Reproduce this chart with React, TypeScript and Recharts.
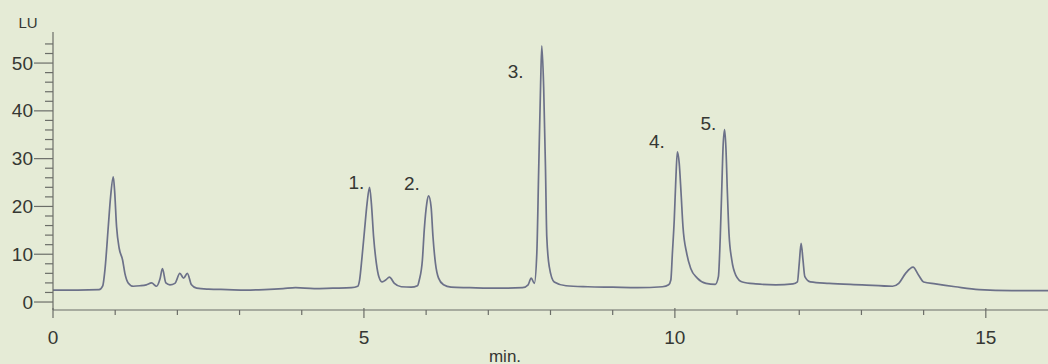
import React from 'react';
import { LineChart, Line, XAxis, YAxis, ReferenceDot } from 'recharts';

// fluorescence trace, retention time in minutes vs signal in LU
const RETENTION_MIN = [
  0.0, 0.4, 0.74, 0.8, 0.835, 0.889, 0.926, 0.969, 0.99, 1.022, 1.065, 1.119, 1.156, 1.209, 1.29, 1.4, 1.5,
  1.585, 1.665, 1.72, 1.76, 1.815, 1.88, 1.96, 2.04, 2.1, 2.16, 2.227, 2.31, 2.5, 2.8, 3.1, 3.4, 3.7, 3.9,
  4.2, 4.5, 4.8, 4.9, 4.93, 4.97, 5.01, 5.05, 5.09, 5.12, 5.155, 5.2, 5.24, 5.295, 5.35, 5.41, 5.49, 5.6,
  5.76, 5.86, 5.89, 5.94, 5.97, 6.01, 6.04, 6.08, 6.11, 6.15, 6.2, 6.28, 6.4, 6.7, 7.0, 7.3, 7.55, 7.64,
  7.69, 7.74, 7.78, 7.81, 7.84, 7.86, 7.89, 7.92, 7.94, 7.98, 8.06, 8.25, 8.6, 9.0, 9.4, 9.8, 9.9, 9.935,
  9.96, 9.99, 10.015, 10.04, 10.07, 10.1, 10.13, 10.19, 10.255, 10.36, 10.5, 10.65, 10.7, 10.73, 10.755,
  10.775, 10.8, 10.82, 10.845, 10.87, 10.915, 10.98, 11.085, 11.3, 11.62, 11.9, 11.97, 12.0, 12.03, 12.06,
  12.09, 12.18, 12.48, 13.01, 13.5, 13.6, 13.71, 13.83, 13.92, 14.0, 14.19, 14.51, 14.89, 15.42, 16.0,
];

const SIGNAL_LU = [
  2.5, 2.5, 2.6, 3.4, 6.7, 15.8, 22.0, 26.2, 23.4, 15.8, 11.2, 8.8, 6.0, 4.0, 3.3, 3.4, 3.6,
  4.0, 3.3, 4.8, 7.0, 4.0, 3.6, 3.9, 6.0, 5.0, 6.0, 3.6, 2.9, 2.7, 2.6, 2.5, 2.6, 2.8, 3.0,
  2.8, 2.9, 3.0, 3.3, 4.6, 9.5, 15.1, 20.6, 24.0, 20.6, 13.7, 8.1, 5.3, 4.2, 4.6, 5.2, 3.9, 3.2,
  3.1, 3.4, 4.6, 8.8, 15.1, 20.6, 22.2, 19.9, 13.7, 8.1, 5.0, 3.6, 3.1, 3.0, 2.9, 2.9, 3.0, 3.6,
  5.0, 3.9, 10.2, 27.6, 45.0, 53.6, 45.0, 27.6, 13.7, 7.4, 4.2, 3.4, 3.2, 3.1, 3.0, 3.2, 3.6, 4.6,
  10.2, 17.2, 25.5, 31.4, 29.0, 22.7, 15.8, 10.2, 7.0, 5.0, 3.9, 3.7, 5.3, 13.7, 24.1,
  32.5, 36.1, 32.5, 22.7, 14.4, 8.8, 5.6, 4.2, 3.8, 3.6, 3.8, 4.2, 8.1, 12.3, 8.8,
  5.3, 4.2, 3.9, 3.6, 3.3, 3.9, 6.0, 7.3, 5.6, 4.2, 3.8, 3.2, 2.6, 2.4, 2.4,
];

const X_TICKS = [0, 1, 2, 3, 4, 5, 6, 7, 8, 9, 10, 11, 12, 13, 14, 15];
const X_LABELS = [0, 5, 10, 15];
const Y_TICKS = [0, 2, 4, 6, 8, 10, 12, 14, 16, 18, 20, 22, 24, 26, 28, 30, 32, 34, 36, 38, 40, 42, 44, 46, 48, 50, 52, 54];
const Y_LABELS = [0, 10, 20, 30, 40, 50];

// numbered peaks and where their numbers sit (min, LU)
const PEAK_NAMES = ['1.', '2.', '3.', '4.', '5.'];
const PEAK_NAME_MIN = [4.88, 5.77, 7.44, 9.71, 10.54];
const PEAK_NAME_LU = [25.0, 24.9, 48.2, 33.6, 37.4];

const data = RETENTION_MIN.map((t, i) => ({ t, lu: SIGNAL_LU[i] }));

const FONT = '"Liberation Sans", Arial, sans-serif';
const AXIS_COLOR = '#6b6d68';
const TEXT_COLOR = '#353733';
const TRACE_COLOR = '#6c7189';

const XTick = (props: any) => {
  const { x, y, payload } = props;
  const major = X_LABELS.includes(payload.value);
  return (
    <g>
      <line x1={x} x2={x} y1={major ? y - 2 : y} y2={y + (major ? 8 : 5)} stroke={AXIS_COLOR} strokeWidth={1.2} />
      {major && (
        <text x={x} y={y + 27} textAnchor="middle" dominantBaseline="central" fill={TEXT_COLOR} fontSize={19} fontFamily={FONT}>
          {payload.value}
        </text>
      )}
    </g>
  );
};

const YTick = (props: any) => {
  const { x, y, payload } = props;
  const major = Y_LABELS.includes(payload.value);
  return (
    <g>
      <line x1={x - (major ? 19 : 8)} x2={x} y1={y} y2={y} stroke={AXIS_COLOR} strokeWidth={1.2} />
      {major && (
        <text x={x - 20} y={y} textAnchor="end" dominantBaseline="central" fill={TEXT_COLOR} fontSize={19} fontFamily={FONT}>
          {payload.value}
        </text>
      )}
    </g>
  );
};

export default function App() {
  return (
    <div style={{ position: 'absolute', left: 0, top: 0, width: 1048, height: 364, background: '#e5ebd6' }}>
      <LineChart width={1048} height={364} data={data} margin={{ top: 32, right: 0, bottom: 0, left: 0 }}>
        <XAxis
          dataKey="t"
          type="number"
          domain={[0, 16]}
          ticks={X_TICKS}
          interval={0}
          height={54}
          tickSize={0}
          tickMargin={0}
          tick={<XTick />}
          axisLine={{ stroke: AXIS_COLOR, strokeWidth: 1.2 }}
          allowDataOverflow
          label={{
            value: 'min.',
            content: (p: any) => (
              <text x={p.viewBox.x + 452} y={p.viewBox.y + 46} textAnchor="middle" dominantBaseline="central" fill={TEXT_COLOR} fontSize={17} fontFamily={FONT}>
                min.
              </text>
            ),
          }}
        />
        <YAxis
          type="number"
          domain={[-1.67, 56.5]}
          ticks={Y_TICKS}
          interval={0}
          width={53}
          tickSize={0}
          tickMargin={0}
          tick={<YTick />}
          axisLine={{ stroke: AXIS_COLOR, strokeWidth: 1.2 }}
          allowDataOverflow
          label={{
            value: 'LU',
            content: (p: any) => (
              <text x={p.viewBox.x + 28} y={p.viewBox.y - 10} textAnchor="middle" dominantBaseline="central" fill={TEXT_COLOR} fontSize={15} fontFamily={FONT}>
                LU
              </text>
            ),
          }}
        />
        <Line
          type="monotoneX"
          dataKey="lu"
          stroke={TRACE_COLOR}
          strokeWidth={1.7}
          strokeLinejoin="round"
          dot={false}
          activeDot={false}
          isAnimationActive={false}
        />
        {PEAK_NAMES.map((name, i) => (
          <ReferenceDot
            key={name}
            x={PEAK_NAME_MIN[i]}
            y={PEAK_NAME_LU[i]}
            r={0}
            fill="none"
            stroke="none"
            label={{ value: name, position: 'center', fill: TEXT_COLOR, fontSize: 19, fontFamily: FONT }}
          />
        ))}
      </LineChart>
    </div>
  );
}
